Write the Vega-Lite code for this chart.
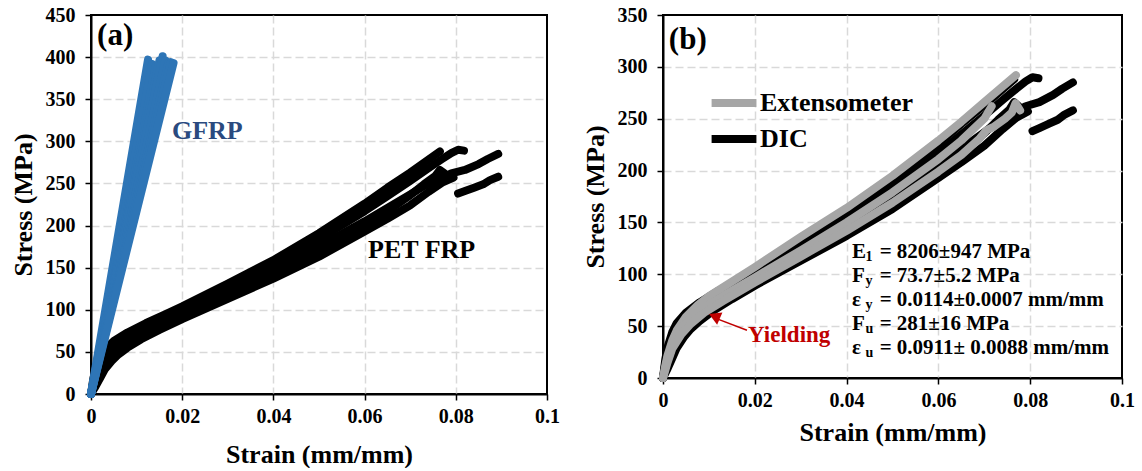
{
  "$schema": "https://vega.github.io/schema/vega-lite/v6.json",
  "background": "white",
  "padding": {"left": 9, "top": 4, "right": 5, "bottom": 0},
  "spacing": 20,
  "config": {
    "font": "Liberation Serif",
    "view": {"stroke": "black", "strokeWidth": 2},
    "axis": {
      "labelFont": "Liberation Serif", "labelFontSize": 20, "labelFontWeight": "bold", "labelColor": "black",
      "titleFont": "Liberation Serif", "titleFontSize": 26, "titleFontWeight": "bold", "titleColor": "black",
      "domainColor": "black", "domainWidth": 2, "tickColor": "black", "tickWidth": 1.5, "tickSize": 6,
      "gridColor": "#d9d9d9", "gridDash": [8, 4], "gridWidth": 1.5,
      "labelFlush": false, "labelOverlap": false
    },
    "axisY": {"labelPadding": 10, "titlePadding": 9},
    "axisX": {"labelPadding": 6}
  },
  "datasets": {
    "pet": [
      {"id":"D1","strain":0,"stress":0},{"id":"D1","strain":0.0005,"stress":18},{"id":"D1","strain":0.001,"stress":30},{"id":"D1","strain":0.002,"stress":44},{"id":"D1","strain":0.003,"stress":53},{"id":"D1","strain":0.005,"stress":63},{"id":"D1","strain":0.008,"stress":73},{"id":"D1","strain":0.012,"stress":84},{"id":"D1","strain":0.016,"stress":94},{"id":"D1","strain":0.02,"stress":104},{"id":"D1","strain":0.03,"stress":131},{"id":"D1","strain":0.04,"stress":159},{"id":"D1","strain":0.05,"stress":191},{"id":"D1","strain":0.06,"stress":226},{"id":"D1","strain":0.065,"stress":245},{"id":"D1","strain":0.07,"stress":263},{"id":"D1","strain":0.0765,"stress":288},
      {"id":"D2","strain":0,"stress":0},{"id":"D2","strain":0.0005,"stress":14},{"id":"D2","strain":0.001,"stress":25},{"id":"D2","strain":0.002,"stress":39},{"id":"D2","strain":0.003,"stress":48},{"id":"D2","strain":0.005,"stress":59},{"id":"D2","strain":0.008,"stress":70},{"id":"D2","strain":0.012,"stress":81},{"id":"D2","strain":0.016,"stress":91},{"id":"D2","strain":0.02,"stress":100},{"id":"D2","strain":0.03,"stress":127},{"id":"D2","strain":0.04,"stress":154},{"id":"D2","strain":0.05,"stress":184},{"id":"D2","strain":0.06,"stress":217},{"id":"D2","strain":0.065,"stress":235},{"id":"D2","strain":0.07,"stress":253},{"id":"D2","strain":0.074,"stress":268},{"id":"D2","strain":0.077,"stress":279},{"id":"D2","strain":0.079,"stress":286},{"id":"D2","strain":0.0805,"stress":290},{"id":"D2","strain":0.0818,"stress":289},
      {"id":"D3","strain":0,"stress":0},{"id":"D3","strain":0.0008,"stress":12},{"id":"D3","strain":0.0015,"stress":24},{"id":"D3","strain":0.0025,"stress":36},{"id":"D3","strain":0.004,"stress":46},{"id":"D3","strain":0.006,"stress":56},{"id":"D3","strain":0.009,"stress":66},{"id":"D3","strain":0.013,"stress":76},{"id":"D3","strain":0.02,"stress":95},{"id":"D3","strain":0.03,"stress":121},{"id":"D3","strain":0.04,"stress":147},{"id":"D3","strain":0.05,"stress":175},{"id":"D3","strain":0.06,"stress":205},{"id":"D3","strain":0.065,"stress":221},{"id":"D3","strain":0.07,"stress":237},{"id":"D3","strain":0.074,"stress":250},{"id":"D3","strain":0.077,"stress":257},{"id":"D3","strain":0.079,"stress":262},{"id":"D3","strain":0.082,"stress":266},{"id":"D3","strain":0.085,"stress":273},{"id":"D3","strain":0.087,"stress":279},{"id":"D3","strain":0.0893,"stress":285},
      {"id":"D4","strain":0,"stress":0},{"id":"D4","strain":0.001,"stress":9},{"id":"D4","strain":0.002,"stress":19},{"id":"D4","strain":0.003,"stress":29},{"id":"D4","strain":0.0045,"stress":39},{"id":"D4","strain":0.006,"stress":47},{"id":"D4","strain":0.008,"stress":55},{"id":"D4","strain":0.011,"stress":65},{"id":"D4","strain":0.015,"stress":76},{"id":"D4","strain":0.02,"stress":89},{"id":"D4","strain":0.03,"stress":113},{"id":"D4","strain":0.04,"stress":137},{"id":"D4","strain":0.05,"stress":163},{"id":"D4","strain":0.06,"stress":193},{"id":"D4","strain":0.065,"stress":208},{"id":"D4","strain":0.07,"stress":224},{"id":"D4","strain":0.074,"stress":240},{"id":"D4","strain":0.077,"stress":251},{"id":"D4","strain":0.0795,"stress":257},
      {"id":"D4b","strain":0.0805,"stress":238},{"id":"D4b","strain":0.082,"stress":241},{"id":"D4b","strain":0.084,"stress":245},{"id":"D4b","strain":0.086,"stress":249},{"id":"D4b","strain":0.0875,"stress":254},{"id":"D4b","strain":0.0893,"stress":258},
      {"id":"D5","strain":0,"stress":0},{"id":"D5","strain":0.001,"stress":18},{"id":"D5","strain":0.002,"stress":32},{"id":"D5","strain":0.003,"stress":41},{"id":"D5","strain":0.005,"stress":51},{"id":"D5","strain":0.008,"stress":62},{"id":"D5","strain":0.012,"stress":74},{"id":"D5","strain":0.02,"stress":93},{"id":"D5","strain":0.03,"stress":119},{"id":"D5","strain":0.04,"stress":144},{"id":"D5","strain":0.05,"stress":170},{"id":"D5","strain":0.06,"stress":200},{"id":"D5","strain":0.065,"stress":217},{"id":"D5","strain":0.07,"stress":236},{"id":"D5","strain":0.073,"stress":249},{"id":"D5","strain":0.0755,"stress":259},{"id":"D5","strain":0.0765,"stress":266},{"id":"D5","strain":0.0775,"stress":262}
    ],
    "gfrp": [
      {"id":"G1","strain":0,"stress":0},{"id":"G1","strain":0.0125,"stress":397},
      {"id":"G2","strain":0,"stress":0},{"id":"G2","strain":0.0134,"stress":392},
      {"id":"G3","strain":0,"stress":0},{"id":"G3","strain":0.0142,"stress":389},
      {"id":"G4","strain":0,"stress":0},{"id":"G4","strain":0.015,"stress":396},
      {"id":"G5","strain":0,"stress":0},{"id":"G5","strain":0.0157,"stress":401},
      {"id":"G6","strain":0,"stress":0},{"id":"G6","strain":0.0163,"stress":396},
      {"id":"G7","strain":0,"stress":0},{"id":"G7","strain":0.0169,"stress":392},
      {"id":"G8","strain":0,"stress":0},{"id":"G8","strain":0.0175,"stress":394},
      {"id":"G9","strain":0,"stress":0},{"id":"G9","strain":0.0181,"stress":393}
    ],
    "ext": [
      {"id":"E1","strain":0,"stress":0},{"id":"E1","strain":0.0005,"stress":12},{"id":"E1","strain":0.001,"stress":22},{"id":"E1","strain":0.002,"stress":36},{"id":"E1","strain":0.003,"stress":46},{"id":"E1","strain":0.005,"stress":59},{"id":"E1","strain":0.0075,"stress":70},{"id":"E1","strain":0.01,"stress":79},{"id":"E1","strain":0.015,"stress":93},{"id":"E1","strain":0.02,"stress":107},{"id":"E1","strain":0.03,"stress":136},{"id":"E1","strain":0.04,"stress":164},{"id":"E1","strain":0.05,"stress":195},{"id":"E1","strain":0.06,"stress":229},{"id":"E1","strain":0.065,"stress":247},{"id":"E1","strain":0.07,"stress":266},{"id":"E1","strain":0.0769,"stress":292},
      {"id":"E2","strain":0,"stress":0},{"id":"E2","strain":0.001,"stress":20},{"id":"E2","strain":0.002,"stress":33},{"id":"E2","strain":0.004,"stress":48},{"id":"E2","strain":0.006,"stress":58},{"id":"E2","strain":0.009,"stress":68},{"id":"E2","strain":0.013,"stress":79},{"id":"E2","strain":0.02,"stress":97},{"id":"E2","strain":0.03,"stress":123},{"id":"E2","strain":0.04,"stress":150},{"id":"E2","strain":0.05,"stress":179},{"id":"E2","strain":0.06,"stress":211},{"id":"E2","strain":0.065,"stress":229},{"id":"E2","strain":0.07,"stress":250},{"id":"E2","strain":0.0716,"stress":262},
      {"id":"E3","strain":0,"stress":0},{"id":"E3","strain":0.001,"stress":15},{"id":"E3","strain":0.002,"stress":28},{"id":"E3","strain":0.004,"stress":42},{"id":"E3","strain":0.006,"stress":52},{"id":"E3","strain":0.009,"stress":63},{"id":"E3","strain":0.013,"stress":74},{"id":"E3","strain":0.02,"stress":92},{"id":"E3","strain":0.03,"stress":117},{"id":"E3","strain":0.04,"stress":142},{"id":"E3","strain":0.05,"stress":169},{"id":"E3","strain":0.06,"stress":199},{"id":"E3","strain":0.065,"stress":215},{"id":"E3","strain":0.069,"stress":231},{"id":"E3","strain":0.0705,"stress":239},{"id":"E3","strain":0.072,"stress":242},{"id":"E3","strain":0.0745,"stress":250},{"id":"E3","strain":0.076,"stress":256},{"id":"E3","strain":0.0768,"stress":265},{"id":"E3","strain":0.0778,"stress":258}
    ]
  },
  "resolve": {"scale": {"color": "independent"}, "legend": {"color": "independent"}},
  "hconcat": [
    {
      "width": 456,
      "height": 379,
      "view": {"stroke": "black", "strokeWidth": 2},
      "encoding": {
        "x": {"type": "quantitative", "scale": {"domain": [0, 0.1], "nice": false}, "axis": {"values": [0, 0.02, 0.04, 0.06, 0.08, 0.1], "format": "~g", "title": "Strain (mm/mm)", "titlePadding": 15, "gridOpacity": {"condition": {"test": "datum.value >= 0.099 || datum.value <= 0", "value": 0}, "value": 1}}},
        "y": {"type": "quantitative", "scale": {"domain": [0, 450], "nice": false}, "axis": {"values": [0, 50, 100, 150, 200, 250, 300, 350, 400, 450], "title": "Stress (MPa)", "gridOpacity": {"condition": {"test": "datum.value >= 449 || datum.value <= 0", "value": 0}, "value": 1}}}
      },
      "layer": [
        {
          "data": {"name": "pet"},
          "mark": {"type": "line", "color": "black", "strokeWidth": 8, "strokeCap": "round", "strokeJoin": "round"},
          "encoding": {"x": {"field": "strain"}, "y": {"field": "stress"}, "detail": {"field": "id"}}
        },
        {
          "data": {"name": "gfrp"},
          "mark": {"type": "line", "color": "#2E75B6", "strokeWidth": 8, "strokeCap": "round", "strokeJoin": "round"},
          "encoding": {"x": {"field": "strain"}, "y": {"field": "stress"}, "detail": {"field": "id"}}
        },
        {
          "data": {"values": [{}]},
          "mark": {"type": "text", "text": "(a)", "fontSize": 31, "fontWeight": "bold", "font": "Liberation Serif", "align": "center", "baseline": "middle", "color": "black"},
          "encoding": {"x": {"datum": 0.0053}, "y": {"datum": 425}}
        },
        {
          "data": {"values": [{}]},
          "mark": {"type": "text", "text": "GFRP", "fontSize": 26, "fontWeight": "bold", "font": "Liberation Serif", "align": "center", "baseline": "middle", "color": "#2A4A7F"},
          "encoding": {"x": {"datum": 0.0255}, "y": {"datum": 312}}
        },
        {
          "data": {"values": [{}]},
          "mark": {"type": "text", "text": "PET FRP", "fontSize": 26, "fontWeight": "bold", "font": "Liberation Serif", "align": "center", "baseline": "middle", "color": "black"},
          "encoding": {"x": {"datum": 0.0725}, "y": {"datum": 171}}
        }
      ]
    },
    {
      "width": 459,
      "height": 363,
      "view": {"stroke": "black", "strokeWidth": 2},
      "encoding": {
        "x": {"type": "quantitative", "scale": {"domain": [0, 0.1], "nice": false}, "axis": {"values": [0, 0.02, 0.04, 0.06, 0.08, 0.1], "format": "~g", "title": "Strain (mm/mm)", "titlePadding": 9, "gridOpacity": {"condition": {"test": "datum.value >= 0.099 || datum.value <= 0", "value": 0}, "value": 1}}},
        "y": {"type": "quantitative", "scale": {"domain": [0, 350], "nice": false}, "axis": {"values": [0, 50, 100, 150, 200, 250, 300, 350], "title": "Stress (MPa)", "gridOpacity": {"condition": {"test": "datum.value >= 349 || datum.value <= 0", "value": 0}, "value": 1}}}
      },
      "layer": [
        {
          "data": {"name": "pet"},
          "mark": {"type": "line", "strokeWidth": 8, "strokeCap": "round", "strokeJoin": "round"},
          "encoding": {
            "x": {"field": "strain"}, "y": {"field": "stress"}, "detail": {"field": "id"},
            "color": {"datum": "DIC", "type": "nominal",
              "scale": {"domain": ["Extensometer", "DIC"], "range": ["#A6A6A6", "#000000"]},
              "legend": {"orient": "none", "legendX": 51, "legendY": 68, "title": null, "symbolType": "M-1.4,0H1.4", "symbolStrokeWidth": 8, "symbolSize": 1024, "labelFont": "Liberation Serif", "labelFontSize": 26, "labelFontWeight": "bold", "labelColor": "black", "labelOffset": 6, "rowPadding": 0, "padding": 0}}
          }
        },
        {
          "data": {"name": "ext"},
          "mark": {"type": "line", "strokeWidth": 8, "strokeCap": "round", "strokeJoin": "round"},
          "encoding": {
            "x": {"field": "strain"}, "y": {"field": "stress"}, "detail": {"field": "id"},
            "color": {"datum": "Extensometer", "type": "nominal"}
          }
        },
        {
          "data": {"values": [{}]},
          "mark": {"type": "text", "text": "(b)", "fontSize": 31, "fontWeight": "bold", "font": "Liberation Serif", "align": "center", "baseline": "middle", "color": "black"},
          "encoding": {"x": {"datum": 0.0054}, "y": {"datum": 326}}
        },
        {
          "data": {"values": [{}]},
          "mark": {"type": "text", "fontSize": 21, "fontWeight": "bold", "font": "Liberation Serif", "align": "left", "baseline": "middle", "lineHeight": 24, "color": "black"},
          "encoding": {"x": {"datum": 0.0412}, "y": {"datum": 121.5}, "text": {"value": ["E", "F", "ε", "F", "ε"]}}
        },
        {
          "data": {"values": [{}]},
          "mark": {"type": "text", "fontSize": 14, "fontWeight": "bold", "font": "Liberation Serif", "align": "left", "baseline": "middle", "lineHeight": 24, "dy": 5, "color": "black"},
          "encoding": {"x": {"datum": 0.0441}, "y": {"datum": 121.5}, "text": {"value": ["1", "y", "y", "u", "u"]}}
        },
        {
          "data": {"values": [{}]},
          "mark": {"type": "text", "fontSize": 21, "fontWeight": "bold", "font": "Liberation Serif", "align": "left", "baseline": "middle", "lineHeight": 24, "color": "black"},
          "encoding": {"x": {"datum": 0.0472}, "y": {"datum": 121.5}, "text": {"value": ["= 8206±947 MPa", "= 73.7±5.2 MPa", "= 0.0114±0.0007 mm/mm", "= 281±16 MPa", "= 0.0911± 0.0088 mm/mm"]}}
        },
        {
          "data": {"values": [{}]},
          "mark": {"type": "rule", "color": "#C00000", "strokeWidth": 1.5},
          "encoding": {"x": {"datum": 0.0183}, "y": {"datum": 46}, "x2": {"datum": 0.0118}, "y2": {"datum": 57}}
        },
        {
          "data": {"values": [{}]},
          "mark": {"type": "point", "shape": "triangle-up", "filled": true, "color": "#C00000", "size": 180, "angle": 293, "opacity": 1},
          "encoding": {"x": {"datum": 0.0112}, "y": {"datum": 59.5}}
        },
        {
          "data": {"values": [{}]},
          "mark": {"type": "text", "text": "Yielding", "fontSize": 23, "fontWeight": "bold", "font": "Liberation Serif", "align": "center", "baseline": "middle", "color": "#C00000"},
          "encoding": {"x": {"datum": 0.0275}, "y": {"datum": 41}}
        }
      ]
    }
  ]
}
